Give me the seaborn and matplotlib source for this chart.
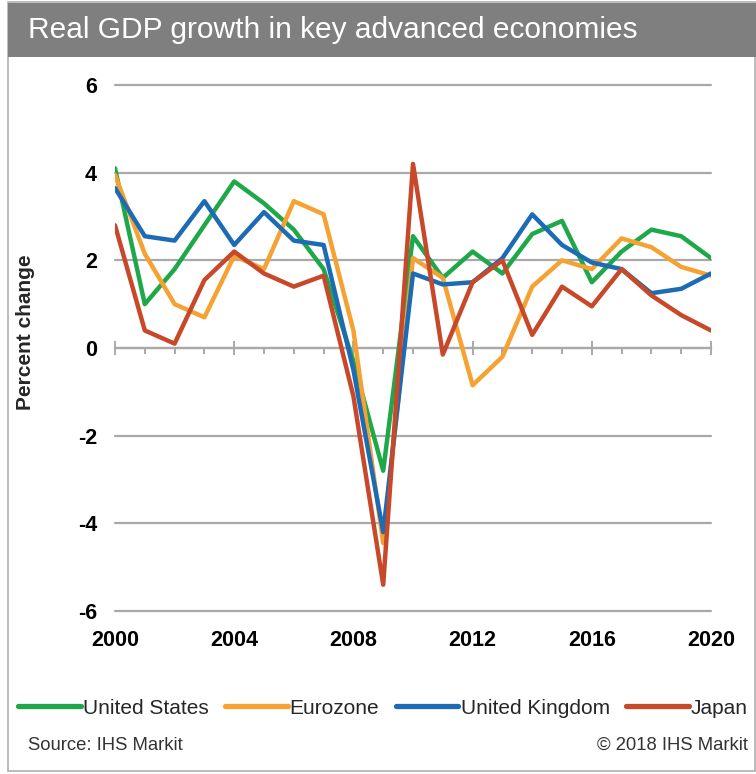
import matplotlib
matplotlib.use("Agg")
import matplotlib.pyplot as plt
from matplotlib.patches import Rectangle
from matplotlib.ticker import MultipleLocator
import numpy as np
import pandas as pd
import seaborn as sns

# Annual real GDP growth, percent change
years = [2000, 2001, 2002, 2003, 2004, 2005, 2006, 2007, 2008, 2009, 2010,
         2011, 2012, 2013, 2014, 2015, 2016, 2017, 2018, 2019, 2020]
united_states = [4.1, 1.0, 1.8, 2.8, 3.8, 3.3, 2.7, 1.8, -0.3, -2.8, 2.55,
                 1.6, 2.2, 1.7, 2.6, 2.9, 1.5, 2.2, 2.7, 2.55, 2.05]
eurozone = [3.95, 2.15, 1.0, 0.7, 2.1, 1.8, 3.35, 3.05, 0.4, -4.45, 2.05,
            1.6, -0.85, -0.2, 1.4, 2.0, 1.8, 2.5, 2.3, 1.85, 1.65]
united_kingdom = [3.65, 2.55, 2.45, 3.35, 2.35, 3.1, 2.45, 2.35, -0.5, -4.2, 1.7,
                  1.45, 1.5, 2.05, 3.05, 2.35, 1.95, 1.8, 1.25, 1.35, 1.7]
japan = [2.8, 0.4, 0.1, 1.55, 2.2, 1.7, 1.4, 1.65, -1.1, -5.4, 4.2,
         -0.15, 1.5, 2.0, 0.3, 1.4, 0.95, 1.8, 1.2, 0.75, 0.4]

series_names = ["United States", "Eurozone", "United Kingdom", "Japan"]
series_colors = ["#1FA84A", "#F6A233", "#1E6BB5", "#C8482A"]
x_ticks = [2000, 2004, 2008, 2012, 2016, 2020]
y_ticks = [-6, -4, -2, 0, 2, 4, 6]

title_text = "Real GDP growth in key advanced economies"
y_label = "Percent change"
source_text = "Source: IHS Markit"
copyright_text = "\u00a9 2018 IHS Markit"

df = pd.DataFrame({
    "year": years * 4,
    "growth": united_states + eurozone + united_kingdom + japan,
    "economy": sum([[n] * len(years) for n in series_names], []),
})

sns.set_theme(style="white")
plt.rcParams["font.family"] = ["Liberation Sans", "DejaVu Sans"]
plt.rcParams["axes.unicode_minus"] = False

W, H = 756, 774
fig = plt.figure(figsize=(W / 100, H / 100), dpi=100)

def fx(px):
    return px / W

def fy(py):
    return 1 - py / H

# Outer frame and title banner
fig.patches.append(Rectangle((fx(8), fy(771)), fx(755) - fx(8), fy(2) - fy(771),
                             transform=fig.transFigure, facecolor="white",
                             edgecolor="#B0B0B0", linewidth=1.2, zorder=0))
fig.patches.append(Rectangle((fx(8), fy(57)), fx(756) - fx(8), fy(3) - fy(57),
                             transform=fig.transFigure, facecolor="#7F7F7F",
                             edgecolor="none", zorder=1))
fig.text(fx(28), fy(30), title_text, color="white", fontsize=21.5,
         ha="left", va="center")

ax = fig.add_axes([fx(115), fy(611), fx(711) - fx(115), fy(85) - fy(611)])

sns.lineplot(data=df, x="year", y="growth", hue="economy",
             hue_order=series_names, palette=dict(zip(series_names, series_colors)),
             linewidth=3.2, ax=ax, legend=False, zorder=3)

ax.set_xlim(2000, 2020)
ax.set_ylim(-6, 6)
ax.set_yticks(y_ticks)
ax.set_xticks(x_ticks)
ax.set_xticklabels([str(t) for t in x_ticks])
ax.grid(axis="y", color="#A9A9A9", linewidth=1.6)
ax.grid(axis="x", visible=False)
for gl in ax.get_ygridlines():
    gl.set_clip_on(False)
for s in ax.spines.values():
    s.set_visible(False)
ax.tick_params(axis="both", length=0, labelsize=15.5, colors="black")
ax.tick_params(axis="x", pad=14)
ax.tick_params(axis="y", pad=13)
for lbl in ax.get_xticklabels() + ax.get_yticklabels():
    lbl.set_fontweight("bold")
ax.set_xlabel("")
ax.set_ylabel(y_label, fontsize=15, fontweight="bold")
ax.yaxis.set_label_coords((35 - 115) / 596, 0.53)

# Zero axis line with yearly ticks
ax0 = ax.twiny()
ax0.set_xlim(ax.get_xlim())
for name, s in ax0.spines.items():
    s.set_visible(name == "bottom")
ax0.spines["bottom"].set_position(("data", 0))
ax0.spines["bottom"].set_color("#A9A9A9")
ax0.spines["bottom"].set_linewidth(1.6)
ax0.xaxis.set_ticks_position("bottom")
ax0.xaxis.set_major_locator(MultipleLocator(4))
ax0.xaxis.set_minor_locator(MultipleLocator(1))
ax0.tick_params(axis="x", which="major", direction="inout", length=10,
                width=1.4, color="#A9A9A9", labelbottom=False, labeltop=False)
ax0.tick_params(axis="x", which="minor", direction="out", length=4,
                width=1.4, color="#A9A9A9")
ax0.set_zorder(1)
ax.set_zorder(2)
ax.patch.set_visible(False)

handles = [plt.Line2D([], [], color=c, linewidth=3.8) for c in series_colors]
leg = fig.legend(handles, series_names, loc="center", ncol=4,
                 bbox_to_anchor=(fx(383), fy(708)), frameon=False, fontsize=15,
                 handlelength=3.0, handletextpad=0.1, columnspacing=0.8,
                 borderaxespad=0)
for t in leg.get_texts():
    t.set_color("#262626")

fig.text(fx(28), fy(745), source_text, fontsize=13.3, ha="left", va="center",
         color="#333333")
fig.text(fx(748), fy(745), copyright_text, fontsize=13.3, ha="right", va="center",
         color="#333333")

fig.savefig("out.png", dpi=100)
